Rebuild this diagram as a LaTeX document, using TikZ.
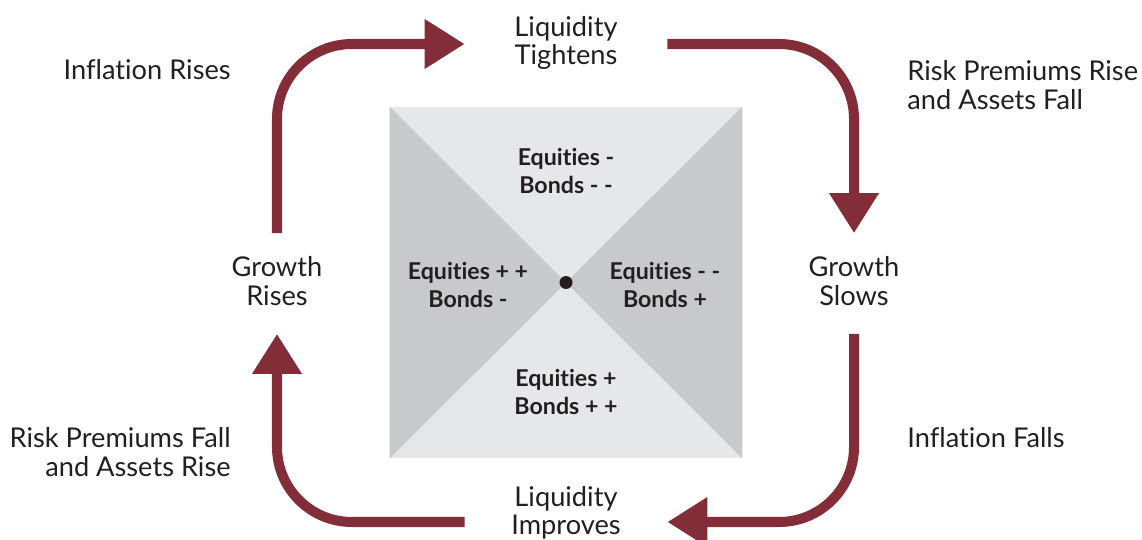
\documentclass[tikz,border=0pt]{standalone}
\usepackage{fontspec}
\setmainfont[Ligatures={NoCommon,NoRare}]{Lato}
\usetikzlibrary{arrows.meta, positioning}
\definecolor{cyclered}{RGB}{130,45,56}
\definecolor{lightgrey}{RGB}{230,231,233}
\definecolor{darkgrey}{RGB}{200,201,203}
\definecolor{textgrey}{RGB}{35,31,32}

\begin{document}
\begin{tikzpicture}[x=0.02cm, y=-0.02cm,
    phase/.style={align=center, text=textgrey, font=\fontsize{15.5}{16.2}\selectfont, inner sep=0pt},
    note/.style={text=textgrey, font=\fontsize{15.5}{16.2}\selectfont, inner sep=0pt},
    quad/.style={align=center, text=textgrey, font=\fontsize{13.2}{16}\selectfont\bfseries, inner sep=0pt},
    turnarrow/.style={cyclered, line width=5.7pt, rounded corners=1.5cm, -{Triangle[length=0.8cm,width=0.94cm]}}]
    \useasboundingbox (0,0) rectangle (1142,540);

    % Square
    \node[fill=lightgrey, minimum width=7.04cm, minimum height=7.02cm, inner sep=0pt] (square) at (566,282.5) {};
    \fill[darkgrey] (square.north west) -- (square.center) -- (square.south west) -- cycle;
    \fill[darkgrey] (square.north east) -- (square.center) -- (square.south east) -- cycle;
    \fill[textgrey] (square.center) circle[radius=0.13cm];

    % Quadrants
    \node[quad] (qtop) at (566,171) {Equities -\\Bonds - -};
    \node[quad] (qleft) at (468,285) {Equities + +\\Bonds -};
    \node[quad] (qright) at (665,285) {Equities - -\\Bonds +};
    \node[quad] (qbot) at (566,392) {Equities +\\Bonds + +};

    % Phases
    \node[phase, minimum width=4.04cm] (tight) at (566,43) {Liquidity\\Tightens};
    \node[phase, minimum height=2cm] (rises) at (277,281) {Growth\\Rises};
    \node[phase, minimum height=2cm] (slows) at (854,281) {Growth\\Slows};
    \node[phase, minimum width=4.04cm] (improve) at (566,513) {Liquidity\\Improves};

    % Notes
    \node[note, anchor=east] (influp) at (231,70) {Inflation Rises};
    \node[note, align=left, anchor=west] (riskup) at (907,85) {Risk Premiums Rise\\and Assets Fall};
    \node[note, anchor=west] (infldown) at (907,438) {Inflation Falls};
    \node[note, align=right, anchor=east] (riskdown) at (231,452) {Risk Premiums Fall\\and Assets Rise};

    % Arrows
    \draw[turnarrow] ([yshift=-0.5mm]rises.north) |- ([yshift=-0.2mm]tight.west);
    \draw[turnarrow] ([yshift=-0.2mm]tight.east) -| ([yshift=-0.5mm]slows.north);
    \draw[turnarrow] ([yshift=-0.5mm]slows.south) |- ([yshift=-1.8mm]improve.east);
    \draw[turnarrow] ([yshift=-1.8mm]improve.west) -| ([yshift=-0.5mm]rises.south);
\end{tikzpicture}
\end{document}
